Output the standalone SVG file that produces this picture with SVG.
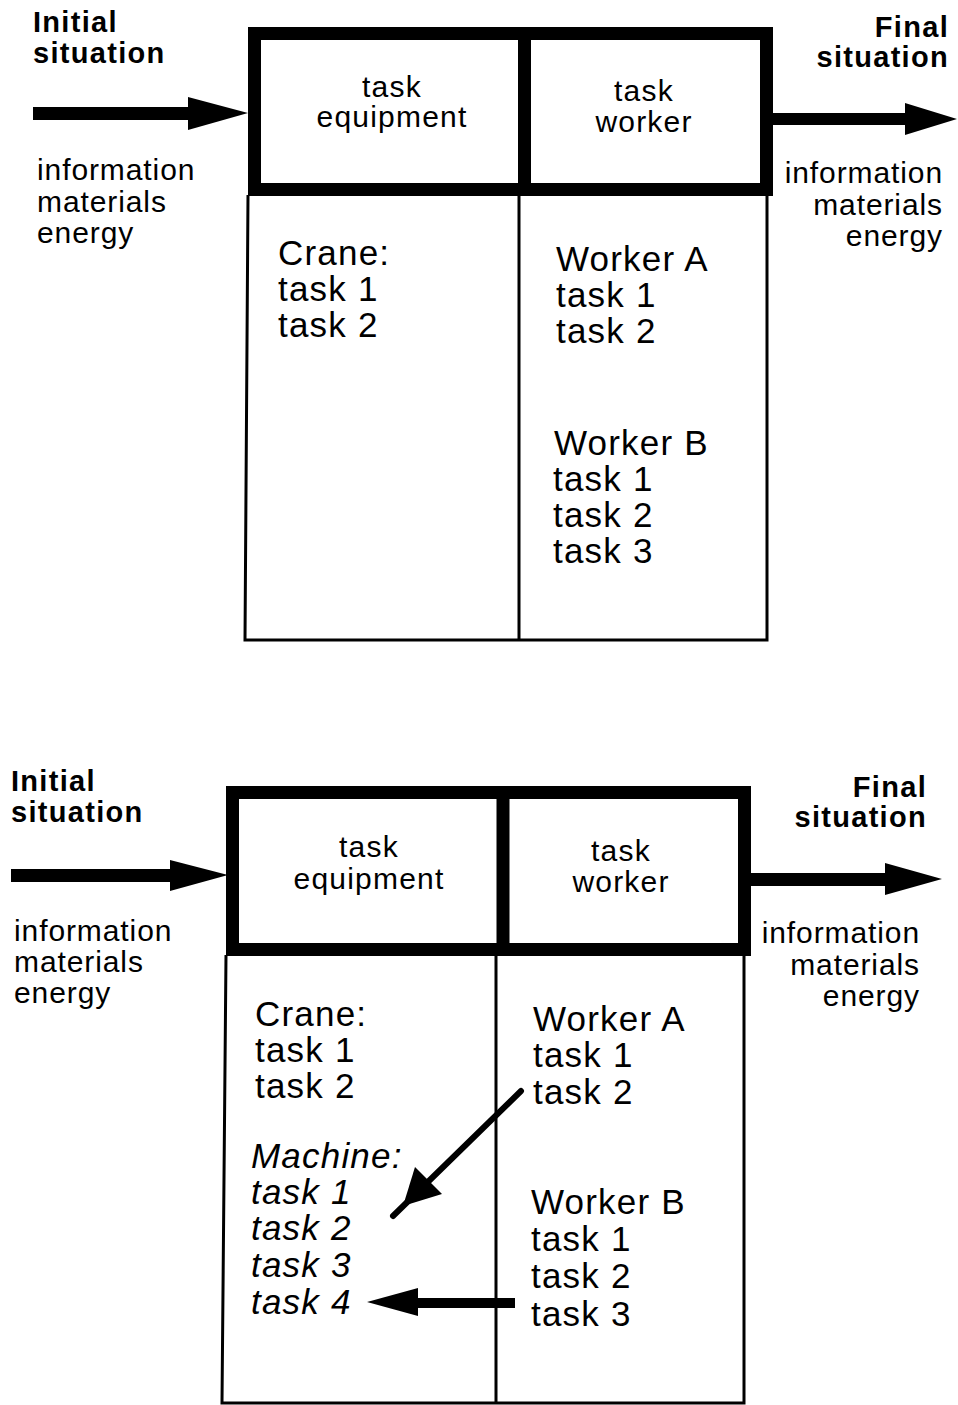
<svg xmlns="http://www.w3.org/2000/svg" width="958" height="1405" viewBox="0 0 958 1405">
<style>
.t{font-family:"Liberation Sans",Arial,sans-serif;fill:#000}
.b{font-weight:bold;font-size:29px;letter-spacing:1.3px}
.s{font-size:30px;letter-spacing:0.9px}
.h{font-size:30px;letter-spacing:1.2px}
.c{font-size:35px;letter-spacing:1.2px}
.i{font-style:italic}
.e{text-anchor:end}
.m{text-anchor:middle}
.thick{fill:none;stroke:#000;stroke-width:13}
.thin{fill:none;stroke:#000;stroke-width:3}
</style>
<rect width="958" height="1405" fill="#fff"/>

<!-- TOP DIAGRAM -->
<g id="top-labels">
<text class="t b" x="33" y="32">Initial</text>
<text class="t b" x="33" y="63">situation</text>
<text class="t s" x="37" y="180">information</text>
<text class="t s" x="37" y="212">materials</text>
<text class="t s" x="37" y="243">energy</text>
<text class="t b e" x="949" y="37">Final</text>
<text class="t b e" x="949" y="67">situation</text>
<text class="t s e" x="943" y="183">information</text>
<text class="t s e" x="943" y="215">materials</text>
<text class="t s e" x="943" y="246">energy</text>
</g>
<g id="top-box">
<polyline class="thin" points="248,195 245,640 767,640 767,195"/>
<line class="thin" x1="519" y1="195" x2="519" y2="640"/>
<rect class="thick" x="254.5" y="33.5" width="512" height="156"/>
<line class="thick" x1="524.5" y1="33" x2="524.5" y2="190"/>
</g>
<g id="top-equipment">
<text class="t h m" x="392" y="97">task</text>
<text class="t h m" x="392" y="127">equipment</text>
<text class="t c" x="278" y="265">Crane:</text>
<text class="t c" x="278" y="301">task 1</text>
<text class="t c" x="278" y="337">task 2</text>
</g>
<g id="top-worker">
<text class="t h m" x="644" y="101">task</text>
<text class="t h m" x="644" y="132">worker</text>
<text class="t c" x="556" y="271">Worker A</text>
<text class="t c" x="556" y="307">task 1</text>
<text class="t c" x="556" y="343">task 2</text>
<text class="t c" x="554" y="455">Worker B</text>
<text class="t c" x="553" y="491">task 1</text>
<text class="t c" x="553" y="527">task 2</text>
<text class="t c" x="553" y="563">task 3</text>
</g>

<!-- BOTTOM DIAGRAM -->
<g id="bottom-labels">
<text class="t b" x="11" y="791">Initial</text>
<text class="t b" x="11" y="822">situation</text>
<text class="t s" x="14" y="941">information</text>
<text class="t s" x="14" y="972">materials</text>
<text class="t s" x="14" y="1003">energy</text>
<text class="t b e" x="927" y="797">Final</text>
<text class="t b e" x="927" y="827">situation</text>
<text class="t s e" x="920" y="943">information</text>
<text class="t s e" x="920" y="975">materials</text>
<text class="t s e" x="920" y="1006">energy</text>
</g>
<g id="bottom-box">
<polyline class="thin" points="226,955 222,1403 744,1403 744,955"/>
<line class="thin" x1="496" y1="955" x2="496" y2="1403"/>
<rect class="thick" x="232.5" y="792.5" width="512" height="157"/>
<line class="thick" x1="503" y1="792" x2="503" y2="950"/>
</g>
<g id="bottom-equipment">
<text class="t h m" x="369" y="857">task</text>
<text class="t h m" x="369" y="889">equipment</text>
<text class="t c" x="255" y="1026">Crane:</text>
<text class="t c" x="255" y="1062">task 1</text>
<text class="t c" x="255" y="1098">task 2</text>
<text class="t c i" x="251" y="1168">Machine:</text>
<text class="t c i" x="251" y="1204">task 1</text>
<text class="t c i" x="251" y="1240">task 2</text>
<text class="t c i" x="251" y="1277">task 3</text>
<text class="t c i" x="251" y="1314">task 4</text>
</g>
<g id="bottom-worker">
<text class="t h m" x="621" y="861">task</text>
<text class="t h m" x="621" y="892">worker</text>
<text class="t c" x="533" y="1031">Worker A</text>
<text class="t c" x="533" y="1067">task 1</text>
<text class="t c" x="533" y="1104">task 2</text>
<text class="t c" x="531" y="1214">Worker B</text>
<text class="t c" x="531" y="1251">task 1</text>
<text class="t c" x="531" y="1288">task 2</text>
<text class="t c" x="531" y="1326">task 3</text>
</g>

<g id="connectors" fill="#000" stroke="none">
<!-- top in -->
<rect x="33" y="107" width="158" height="13"/>
<polygon points="188,97 248,113 188,130"/>
<!-- top out -->
<rect x="773" y="113" width="135" height="12"/>
<polygon points="905,103 957,119 905,135"/>
<!-- bottom in -->
<rect x="11" y="869" width="162" height="13"/>
<polygon points="170,860 228,875 170,891"/>
<!-- bottom out -->
<rect x="751" y="873" width="137" height="13"/>
<polygon points="885,863 942,879 885,895"/>
<!-- worker A task 2 -> machine -->
<line x1="521" y1="1091" x2="393" y2="1216" stroke="#000" stroke-width="6" stroke-linecap="round"/>
<polygon points="403,1206 415,1167 442,1194"/>
<!-- worker B task 3 -> machine task 4 -->
<rect x="415" y="1298" width="100" height="10"/>
<polygon points="367,1302 418,1288 418,1316"/>
</g>
</svg>
